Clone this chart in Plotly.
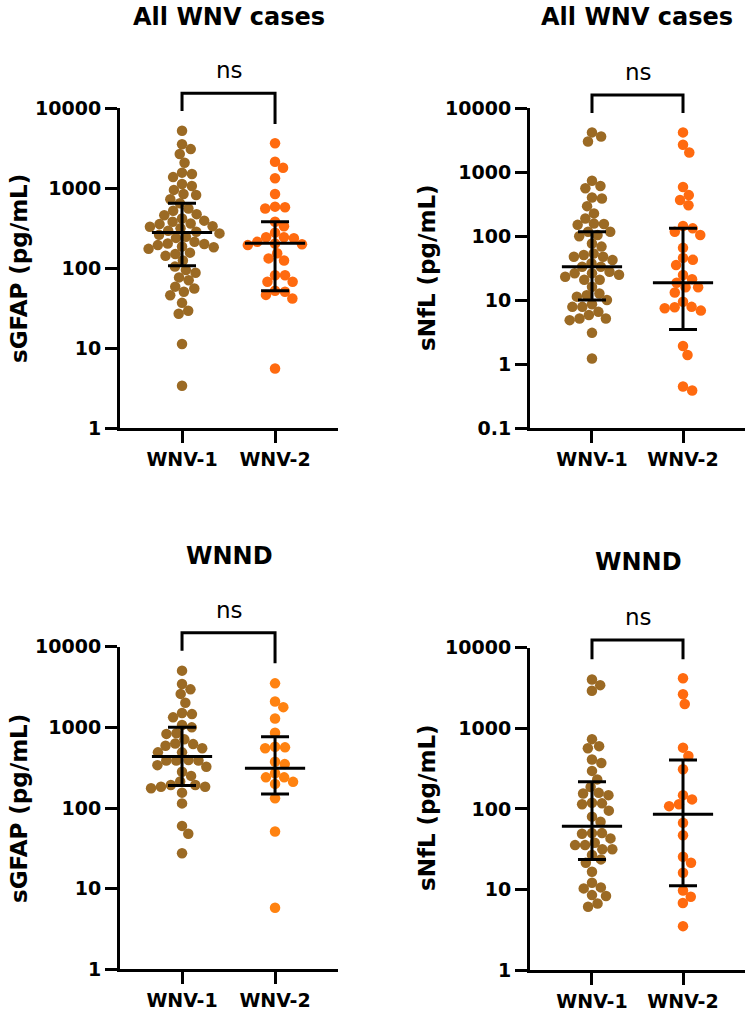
import numpy as np
import plotly.graph_objects as go

# values (pg/mL)
groups = ["WNV-1", "WNV-2"]

gfap_all_wnv1 = [5250, 3560, 3090, 2690, 2090, 1570, 1510, 1380, 1130, 1070, 955, 850,
                 825, 730, 650, 560, 525, 475, 460, 420, 394, 382, 363, 357, 336, 330,
                 316, 295, 286, 273, 262, 248, 240, 214, 204, 201, 195, 187, 183, 175,
                 157, 151, 143, 125, 105, 95, 88, 77, 71, 59, 56, 51, 46, 37, 29.5, 27,
                 11.3, 3.4]
gfap_all_wnv2 = [3650, 2150, 1810, 1333, 850, 590, 580, 560, 382, 336, 279, 245, 245,
                 237, 214, 204, 200, 195, 154, 133, 125, 82, 82, 68, 68, 52.5, 51, 46.5,
                 42, 5.6]
nfl_all_wnv1 = [4200, 3630, 3020, 740, 610, 565, 405, 390, 296, 228, 190, 158, 156, 151,
                118, 118, 105, 100, 77, 69, 54, 51, 48, 48, 42.5, 38, 33.5, 33.5, 28,
                26.4, 26.4, 25, 23.4, 21, 21, 16.3, 12.8, 12, 11.4, 10.1, 8.7, 7.9, 7.9,
                6.6, 5.9, 5.2, 5.2, 4.9, 3.1, 1.23]
nfl_all_wnv2 = [4200, 2700, 2040, 590, 440, 370, 305, 145, 133, 118, 105, 66, 46, 43,
                35.5, 24.8, 21.3, 18.8, 16, 16, 13.2, 9.5, 7.9, 7.8, 7.5, 6.9, 1.93, 1.4,
                0.45, 0.39]
gfap_wnnd_wnv1 = [5050, 3450, 2960, 2600, 2020, 1510, 1460, 1330, 1070, 1000, 845, 830,
                  710, 630, 620, 590, 550, 490, 490, 394, 388, 388, 388, 340, 325, 282,
                  250, 213, 193, 193, 183, 183, 176, 155, 114, 60, 48, 27.5]
gfap_wnnd_wnv2 = [3510, 2090, 1780, 1290, 860, 575, 565, 550, 375, 350, 270, 240, 240,
                  211, 199, 132, 51, 5.8]
nfl_wnnd_wnv1 = [4040, 3430, 2920, 733, 600, 565, 410, 370, 296, 232, 187, 158, 155, 148,
                 119, 117, 114, 95, 80, 69, 50, 50, 49, 43, 38, 35.5, 35.5, 31.5, 31.5,
                 26.8, 23.6, 21.4, 16.6, 12.1, 10.6, 10.3, 8.5, 8.3, 6.7, 6.1]
nfl_wnnd_wnv2 = [4170, 2650, 2000, 575, 452, 310, 148, 131, 114, 108, 67, 47, 25.4, 21.4,
                 16.1, 9.7, 8.1, 6.8, 3.5]

# median and interquartile range as drawn: (median, q1, q3)
gfap_all_stats = [(280, 108, 650), (205, 52.5, 382)]
nfl_all_stats = [(33.5, 10.1, 118), (18.8, 3.5, 133)]
gfap_wnnd_stats = [(435, 190, 1000), (310, 149, 765)]
nfl_wnnd_stats = [(61, 23.6, 217), (86, 11.1, 403)]

W, H = 750, 1012
BROWN = "#9b6a24"
FONT = "DejaVu Sans"

panels = [
    dict(data=[gfap_all_wnv1, gfap_all_wnv2], stats=gfap_all_stats,
         colors=[BROWN, "#ff6a0f"], title="All WNV cases", ytitle="sGFAP (pg/mL)",
         xpx=(120, 338), ypx=(108.3, 428.3), ylog=(0, 4), xr=(0.333, 2.677),
         title_xy=(229, 17), ytitle_xy=(19, 269), ns_xy=(229, 70),
         bracket=(93.3, 111, 124)),
    dict(data=[nfl_all_wnv1, nfl_all_wnv2], stats=nfl_all_stats,
         colors=[BROWN, "#ff6a0f"], title="All WNV cases", ytitle="sNfL (pg/mL)",
         xpx=(530, 745), ypx=(108.3, 428.3), ylog=(-1, 4), xr=(0.319, 2.681),
         title_xy=(637, 17), ytitle_xy=(427, 268), ns_xy=(638, 72),
         bracket=(95, 113, 113)),
    dict(data=[gfap_wnnd_wnv1, gfap_wnnd_wnv2], stats=gfap_wnnd_stats,
         colors=[BROWN, "#ff8210"], title="WNND", ytitle="sGFAP (pg/mL)",
         xpx=(120, 338), ypx=(646.7, 969.3), ylog=(0, 4), xr=(0.333, 2.677),
         title_xy=(229, 556), ytitle_xy=(19, 809), ns_xy=(229, 610),
         bracket=(632.7, 650.7, 663.3)),
    dict(data=[nfl_wnnd_wnv1, nfl_wnnd_wnv2], stats=nfl_wnnd_stats,
         colors=[BROWN, "#ff6a0f"], title="WNND", ytitle="sNfL (pg/mL)",
         xpx=(530, 745), ypx=(647.7, 970), ylog=(0, 4), xr=(0.319, 2.681),
         title_xy=(638, 562), ytitle_xy=(427, 808), ns_xy=(638, 617),
         bracket=(640, 659.3, 659.3)),
]


def swarm(values, px_per_decade, diam=10.0):
    # greedy beeswarm, offsets in pixels
    ys = np.log10(np.asarray(values, float)) * px_per_decade
    xs = np.zeros(len(ys))
    placed = []
    for i in np.argsort(-ys):
        y = ys[i]
        cands = [0.0]
        for px, py in placed:
            dy = abs(py - y)
            if dy < diam:
                dx = np.sqrt(diam ** 2 - dy ** 2)
                cands += [px + dx, px - dx]
        cands.sort(key=abs)
        for c in cands:
            if all((c - px) ** 2 + (y - py) ** 2 >= diam ** 2 - 1e-6 for px, py in placed):
                xs[i] = c
                break
        placed.append((xs[i], y))
    return xs


def px_x(p):
    return p / W


def px_y(p):
    return 1 - p / H


fig = go.Figure()
layout = {}
annotations = []
shapes = []
bold = dict(family=FONT, size=19, color="black", weight="bold")

for k, pan in enumerate(panels, start=1):
    xa = "x" if k == 1 else f"x{k}"
    ya = "y" if k == 1 else f"y{k}"
    x0, x1 = pan["xpx"]
    ytop, ybot = pan["ypx"]
    lo, hi = pan["ylog"]
    px_unit = (x1 - x0) / (pan["xr"][1] - pan["xr"][0])
    px_dec = (ybot - ytop) / (hi - lo)

    for g, (vals, col) in enumerate(zip(pan["data"], pan["colors"]), start=1):
        off = swarm(vals, px_dec) / px_unit
        fig.add_trace(go.Scatter(
            x=g + off, y=vals, mode="markers", xaxis=xa, yaxis=ya,
            marker=dict(color=col, size=10.5, line=dict(width=0)),
            showlegend=False, hoverinfo="y",
        ))
    for g, (med, q1, q3) in enumerate(pan["stats"], start=1):
        fig.add_trace(go.Scatter(
            x=[g], y=[med], mode="markers", xaxis=xa, yaxis=ya,
            marker=dict(symbol="line-ew", size=43, color="black",
                        line=dict(width=3, color="black")),
            error_y=dict(type="data", symmetric=False, array=[q3 - med],
                         arrayminus=[med - q1], width=14, thickness=3, color="black"),
            showlegend=False, hoverinfo="skip",
        ))

    tickvals = [10.0 ** e for e in range(lo, hi + 1)]
    ticktext = [("%g" % v) for v in tickvals]
    layout["xaxis" if k == 1 else f"xaxis{k}"] = dict(
        domain=[px_x(x0), px_x(x1)], anchor=ya, range=list(pan["xr"]),
        tickvals=[1, 2], ticktext=groups, ticks="outside", ticklen=12, tickwidth=3,
        tickcolor="black", showline=True, linewidth=3, linecolor="black",
        showgrid=False, zeroline=False, tickfont=bold, fixedrange=True,
        automargin=False,
    )
    layout["yaxis" if k == 1 else f"yaxis{k}"] = dict(
        domain=[px_y(ybot), px_y(ytop)], anchor=xa, type="log", range=[lo, hi],
        tickvals=tickvals, ticktext=ticktext, ticks="outside", ticklen=12,
        tickwidth=3, tickcolor="black", showline=True, linewidth=3,
        linecolor="black", showgrid=False, zeroline=False, tickfont=bold,
        fixedrange=True, automargin=False,
    )

    tx, ty = pan["title_xy"]
    annotations.append(dict(text=pan["title"], x=px_x(tx), y=px_y(ty), xref="paper",
                            yref="paper", showarrow=False, xanchor="center",
                            yanchor="middle",
                            font=dict(family=FONT, size=24, color="black", weight="bold")))
    ax_, ay_ = pan["ytitle_xy"]
    annotations.append(dict(text=pan["ytitle"], x=px_x(ax_), y=px_y(ay_), xref="paper",
                            yref="paper", showarrow=False, textangle=-90,
                            xanchor="center", yanchor="middle",
                            font=dict(family=FONT, size=23, color="black", weight="bold")))
    nx, ny = pan["ns_xy"]
    annotations.append(dict(text="ns", x=px_x(nx), y=px_y(ny), xref="paper",
                            yref="paper", showarrow=False, xanchor="center",
                            yanchor="middle",
                            font=dict(family=FONT, size=23, color="black")))
    btop, bl, br = pan["bracket"]
    shapes.append(dict(type="path", xref=xa, yref="paper",
                       path=f"M 1,{px_y(bl)} L 1,{px_y(btop)} L 2,{px_y(btop)} L 2,{px_y(br)}",
                       line=dict(color="black", width=3)))

fig.update_layout(
    width=W, height=H, autosize=False,
    margin=dict(l=0, r=0, t=0, b=0, pad=0, autoexpand=False),
    paper_bgcolor="white", plot_bgcolor="white",
    annotations=annotations, shapes=shapes,
    **layout,
)

# the page's default body margin would push the 750x1012 figure off the window
fig.write_html("out.html", config={"displayModeBar": False},
               post_script="document.body.style.margin='0';")
